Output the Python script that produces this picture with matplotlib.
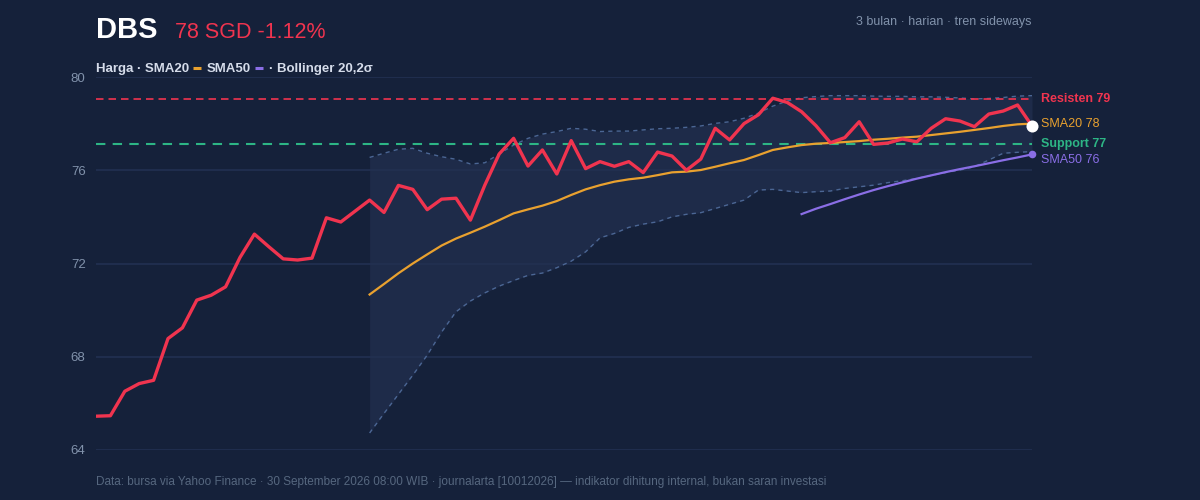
import numpy as np
import matplotlib
matplotlib.use("Agg")
import matplotlib.pyplot as plt
from matplotlib.lines import Line2D

plt.rcParams['font.family'] = ['Liberation Sans', 'DejaVu Sans']

# harga penutupan harian (66 hari)
price = [65.45, 65.47, 66.52, 66.85, 66.99, 68.78, 69.24, 70.43, 70.64, 71.0,
         72.26, 73.26, 72.72, 72.2, 72.15, 72.23, 73.96, 73.78, 74.25, 74.72,
         74.19, 75.35, 75.18, 74.31, 74.76, 74.8, 73.86, 75.36, 76.7, 77.37,
         76.18, 76.87, 75.84, 77.27, 76.07, 76.37, 76.17, 76.37, 75.9, 76.78,
         76.61, 76.0, 76.48, 77.8, 77.3, 78.0, 78.38, 79.09, 78.91, 78.51,
         77.91, 77.18, 77.4, 78.08, 77.11, 77.17, 77.34, 77.22, 77.8, 78.21,
         78.11, 77.87, 78.41, 78.54, 78.8, 77.9]

# indikator mulai hari ke-19 (SMA20 / Bollinger) dan ke-49 (SMA50)
sma20_start = 19
sma20 = [70.67, 71.12, 71.58, 72.0, 72.39, 72.77, 73.07, 73.32, 73.58, 73.86,
         74.15, 74.32, 74.48, 74.68, 74.94, 75.18, 75.36, 75.51, 75.61, 75.68,
         75.79, 75.91, 75.94, 76.01, 76.15, 76.3, 76.44, 76.65, 76.87, 76.98,
         77.08, 77.14, 77.17, 77.21, 77.25, 77.31, 77.35, 77.4, 77.44, 77.51,
         77.58, 77.65, 77.73, 77.81, 77.9, 77.97, 78.0]
bb_upper = [76.55, 76.73, 76.9, 76.94, 76.73, 76.58, 76.47, 76.27, 76.32, 76.7,
            77.08, 77.37, 77.55, 77.66, 77.8, 77.76, 77.66, 77.68, 77.68, 77.73,
            77.78, 77.8, 77.84, 77.9, 78.01, 78.08, 78.23, 78.45, 78.75, 78.97,
            79.11, 79.16, 79.2, 79.2, 79.2, 79.18, 79.17, 79.17, 79.15, 79.15,
            79.13, 79.1, 79.06, 79.08, 79.12, 79.18, 79.2]
bb_lower = [64.73, 65.57, 66.39, 67.21, 68.07, 69.06, 69.93, 70.39, 70.74, 71.03,
            71.27, 71.49, 71.59, 71.82, 72.1, 72.5, 73.1, 73.29, 73.55, 73.69,
            73.79, 74.0, 74.11, 74.18, 74.36, 74.54, 74.72, 75.15, 75.18, 75.11,
            75.04, 75.08, 75.11, 75.22, 75.29, 75.36, 75.47, 75.55, 75.65, 75.78,
            75.9, 76.01, 76.15, 76.44, 76.73, 76.77, 76.8]
sma50_start = 49
sma50 = [74.12, 74.35, 74.55, 74.76, 74.96, 75.15, 75.32, 75.48, 75.64, 75.78,
         75.92, 76.05, 76.17, 76.3, 76.43, 76.55, 76.68]

resistance = 79.06
support = 77.12
yticks = [64, 68, 72, 76, 80]

BG = '#15213a'
RED = '#f0344f'
ORANGE = '#e9a12f'
PURPLE = '#8a6ee6'
GREEN = '#2db585'
BAND = '#4b6694'
GRID = '#223051'
MUTED = '#8192ab'
LEG = '#d5dcea'

fig = plt.figure(figsize=(12, 5), dpi=100, facecolor=BG)
ax = fig.add_axes([96/1200, 1 - 450/500, (1032-96)/1200, (450-77)/500])
ax.set_facecolor(BG)

x = np.arange(len(price))
xb = np.arange(sma20_start, sma20_start + len(sma20))
x50 = np.arange(sma50_start, sma50_start + len(sma50))

# bollinger
ax.fill_between(xb, bb_lower, bb_upper, color='#1e2b49', lw=0, zorder=1)
ax.plot(xb, bb_upper, color=BAND, lw=1, ls=(0, (3, 3)), zorder=2)
ax.plot(xb, bb_lower, color=BAND, lw=1, ls=(0, (3, 3)), zorder=2)

for v in yticks:
    ax.axhline(v, color=GRID, lw=1.2, zorder=1.5)

ax.axhline(resistance, color=RED, lw=1.2, ls=(0, (4.5, 3)), zorder=3)
ax.axhline(support, color=GREEN, lw=1.5, ls=(0, (4.5, 3.5)), zorder=3)

ax.plot(xb, sma20, color=ORANGE, lw=1.6, zorder=4)
ax.plot(x50, sma50, color=PURPLE, lw=1.6, zorder=4)
ax.plot(x, price, color=RED, lw=2.4, zorder=5, solid_joinstyle='round')

ax.scatter([x[-1]], [price[-1]], s=75, color='white', zorder=6, lw=0, clip_on=False)
ax.scatter([x50[-1]], [sma50[-1]], s=30, color=PURPLE, zorder=6, lw=0, clip_on=False)

ax.set_xlim(0, len(price) - 1)
ax.set_ylim(64, 80)
ax.set_yticks(yticks)
ax.set_xticks([])
ax.tick_params(axis='y', length=0, pad=7.5, labelsize=9.5, labelcolor=MUTED)
for s in ax.spines.values():
    s.set_visible(False)

# label kanan
tr = ax.get_yaxis_transform()
lx = 1.0095
ax.text(lx, resistance, 'Resisten 79', transform=tr, color=RED, fontsize=9,
        fontweight='bold', va='center', clip_on=False)
ax.text(lx, sma20[-1], 'SMA20 78', transform=tr, color=ORANGE, fontsize=9,
        va='center', clip_on=False)
ax.text(lx, support, 'Support 77', transform=tr, color=GREEN, fontsize=9,
        fontweight='bold', va='center', clip_on=False)
ax.text(lx, 76.45, 'SMA50 76', transform=tr, color=PURPLE, fontsize=9,
        va='center', clip_on=False)

# judul
fig.text(96/1200, 1 - 37.5/500, 'DBS', color='white', fontsize=21,
         fontweight='bold', va='baseline')
fig.text(175/1200, 1 - 37.5/500, '78 SGD -1.12%', color=RED, fontsize=15.5,
         va='baseline')
fig.text(1032/1200, 1 - 25.5/500, '3 bulan · harian · tren sideways',
         color=MUTED, fontsize=9, ha='right', va='baseline')

# legenda: teks bertahap, garis kecil berwarna di antaranya
fig.canvas.draw()
rend = fig.canvas.get_renderer()
pieces = [('Harga · SMA20', None), (ORANGE, 'line'), ('SMA50', None),
          (PURPLE, 'line'), ('· Bollinger 20,2σ', None)]
px = 96
ybase = 1 - 72/500
for item, kind in pieces:
    if kind == 'line':
        px += 4
        fig.add_artist(Line2D([px/1200, (px+8)/1200], [1 - 68/500, 1 - 68/500],
                              color=item, lw=2.2, solid_capstyle='butt',
                              transform=fig.transFigure))
        px += 8 + 6
    else:
        t = fig.text(px/1200, ybase, item, color=LEG, fontsize=9.5,
                     fontweight='bold', va='baseline')
        px = t.get_window_extent(rend).x1

fig.text(96/1200, 1 - 485.5/500,
         'Data: bursa via Yahoo Finance · 30 September 2026 08:00 WIB · journalarta [10012026]'
         ' — indikator dihitung internal, bukan saran investasi',
         color='#56677f', fontsize=8.5, va='baseline')

fig.savefig('out.png', dpi=100, facecolor=BG)
